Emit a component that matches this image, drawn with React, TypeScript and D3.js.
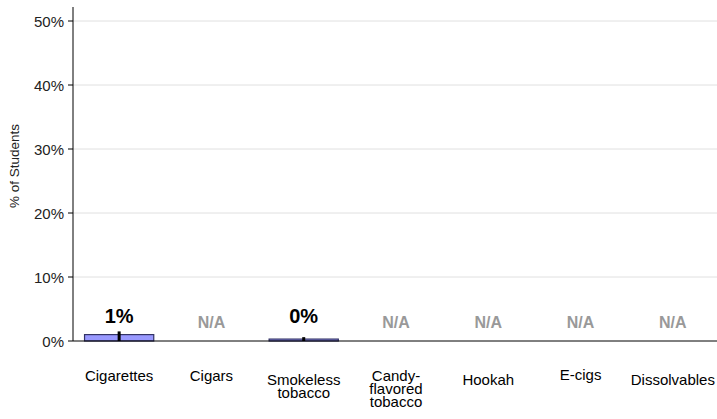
import React from "react";
import * as d3 from "d3";

const categories = ["Cigarettes", "Cigars", "Smokeless tobacco", "Candy-flavored tobacco", "Hookah", "E-cigs", "Dissolvables"];
const labelLines = [["Cigarettes"], ["Cigars"], ["Smokeless", "tobacco"], ["Candy-", "flavored", "tobacco"], ["Hookah"], ["E-cigs"], ["Dissolvables"]];
const values: (number | null)[] = [1.0, null, 0.3, null, null, null, null];
const errHigh: (number | null)[] = [1.5, null, 0.6, null, null, null, null];
const valueLabels = ["1%", "N/A", "0%", "N/A", "N/A", "N/A", "N/A"];
const yTicks = [0, 10, 20, 30, 40, 50];

const W = 717, H = 419;
const left = 73, right = 719, top = 7, bottom = 341;
const labelBaselineShift = [0, 0, 4, 0, 4, -1, 4];

export default function App() {
  const x = d3.scaleBand<string>().domain(categories).range([left, right]).paddingInner(0.25).paddingOuter(0.125);
  const y = d3.scaleLinear().domain([0, 50]).range([bottom, 21]);
  const font = "Liberation Sans, Arial, sans-serif";
  return (
    <svg width={W} height={H} style={{ position: "absolute", left: 0, top: 0 }} fontFamily={font}>
      <rect width={W} height={H} fill="#fff" />
      {yTicks.filter(t => t > 0).map(t => (
        <line key={"g" + t} x1={left} x2={W} y1={y(t)} y2={y(t)} stroke="#e0e0e0" strokeWidth={1} />
      ))}
      {categories.map((c, i) => {
        const v = values[i];
        const cx = x(c)! + x.bandwidth() / 2;
        return (
          <g key={c}>
            {v !== null && (
              <rect x={x(c)!} y={y(v)} width={x.bandwidth()} height={y(0) - y(v)} fill="#9999ff" stroke="#333366" strokeWidth={1.2} />
            )}
            {v !== null && errHigh[i] !== null && (
              <line x1={cx} x2={cx} y1={y(errHigh[i]!)} y2={y(0)} stroke="#000" strokeWidth={3} />
            )}
            <text x={cx} y={v !== null ? 323 : 328} textAnchor="middle" fontWeight="bold"
              fontSize={v !== null ? 20 : 16} fill={v !== null ? "#000" : "#999"}>{valueLabels[i]}</text>
            {labelLines[i].map((ln, j) => (
              <text key={j} x={cx} y={381 + labelBaselineShift[i] + j * 13} textAnchor="middle" fontSize={15} fill="#000">{ln}</text>
            ))}
          </g>
        );
      })}
      <line x1={left} x2={left} y1={top} y2={bottom} stroke="#000" strokeWidth={1} />
      <line x1={left} x2={W} y1={bottom} y2={bottom} stroke="#000" strokeWidth={1} />
      {yTicks.map(t => (
        <g key={"t" + t}>
          <line x1={left - 5} x2={left} y1={y(t)} y2={y(t)} stroke="#000" />
          <text x={left - 9} y={y(t) + 5.5} textAnchor="end" fontSize={15} fill="#222">{t}%</text>
        </g>
      ))}
      <text transform={`translate(19,166) rotate(-90)`} textAnchor="middle" fontSize={13.5} fill="#222">% of Students</text>
    </svg>
  );
}
